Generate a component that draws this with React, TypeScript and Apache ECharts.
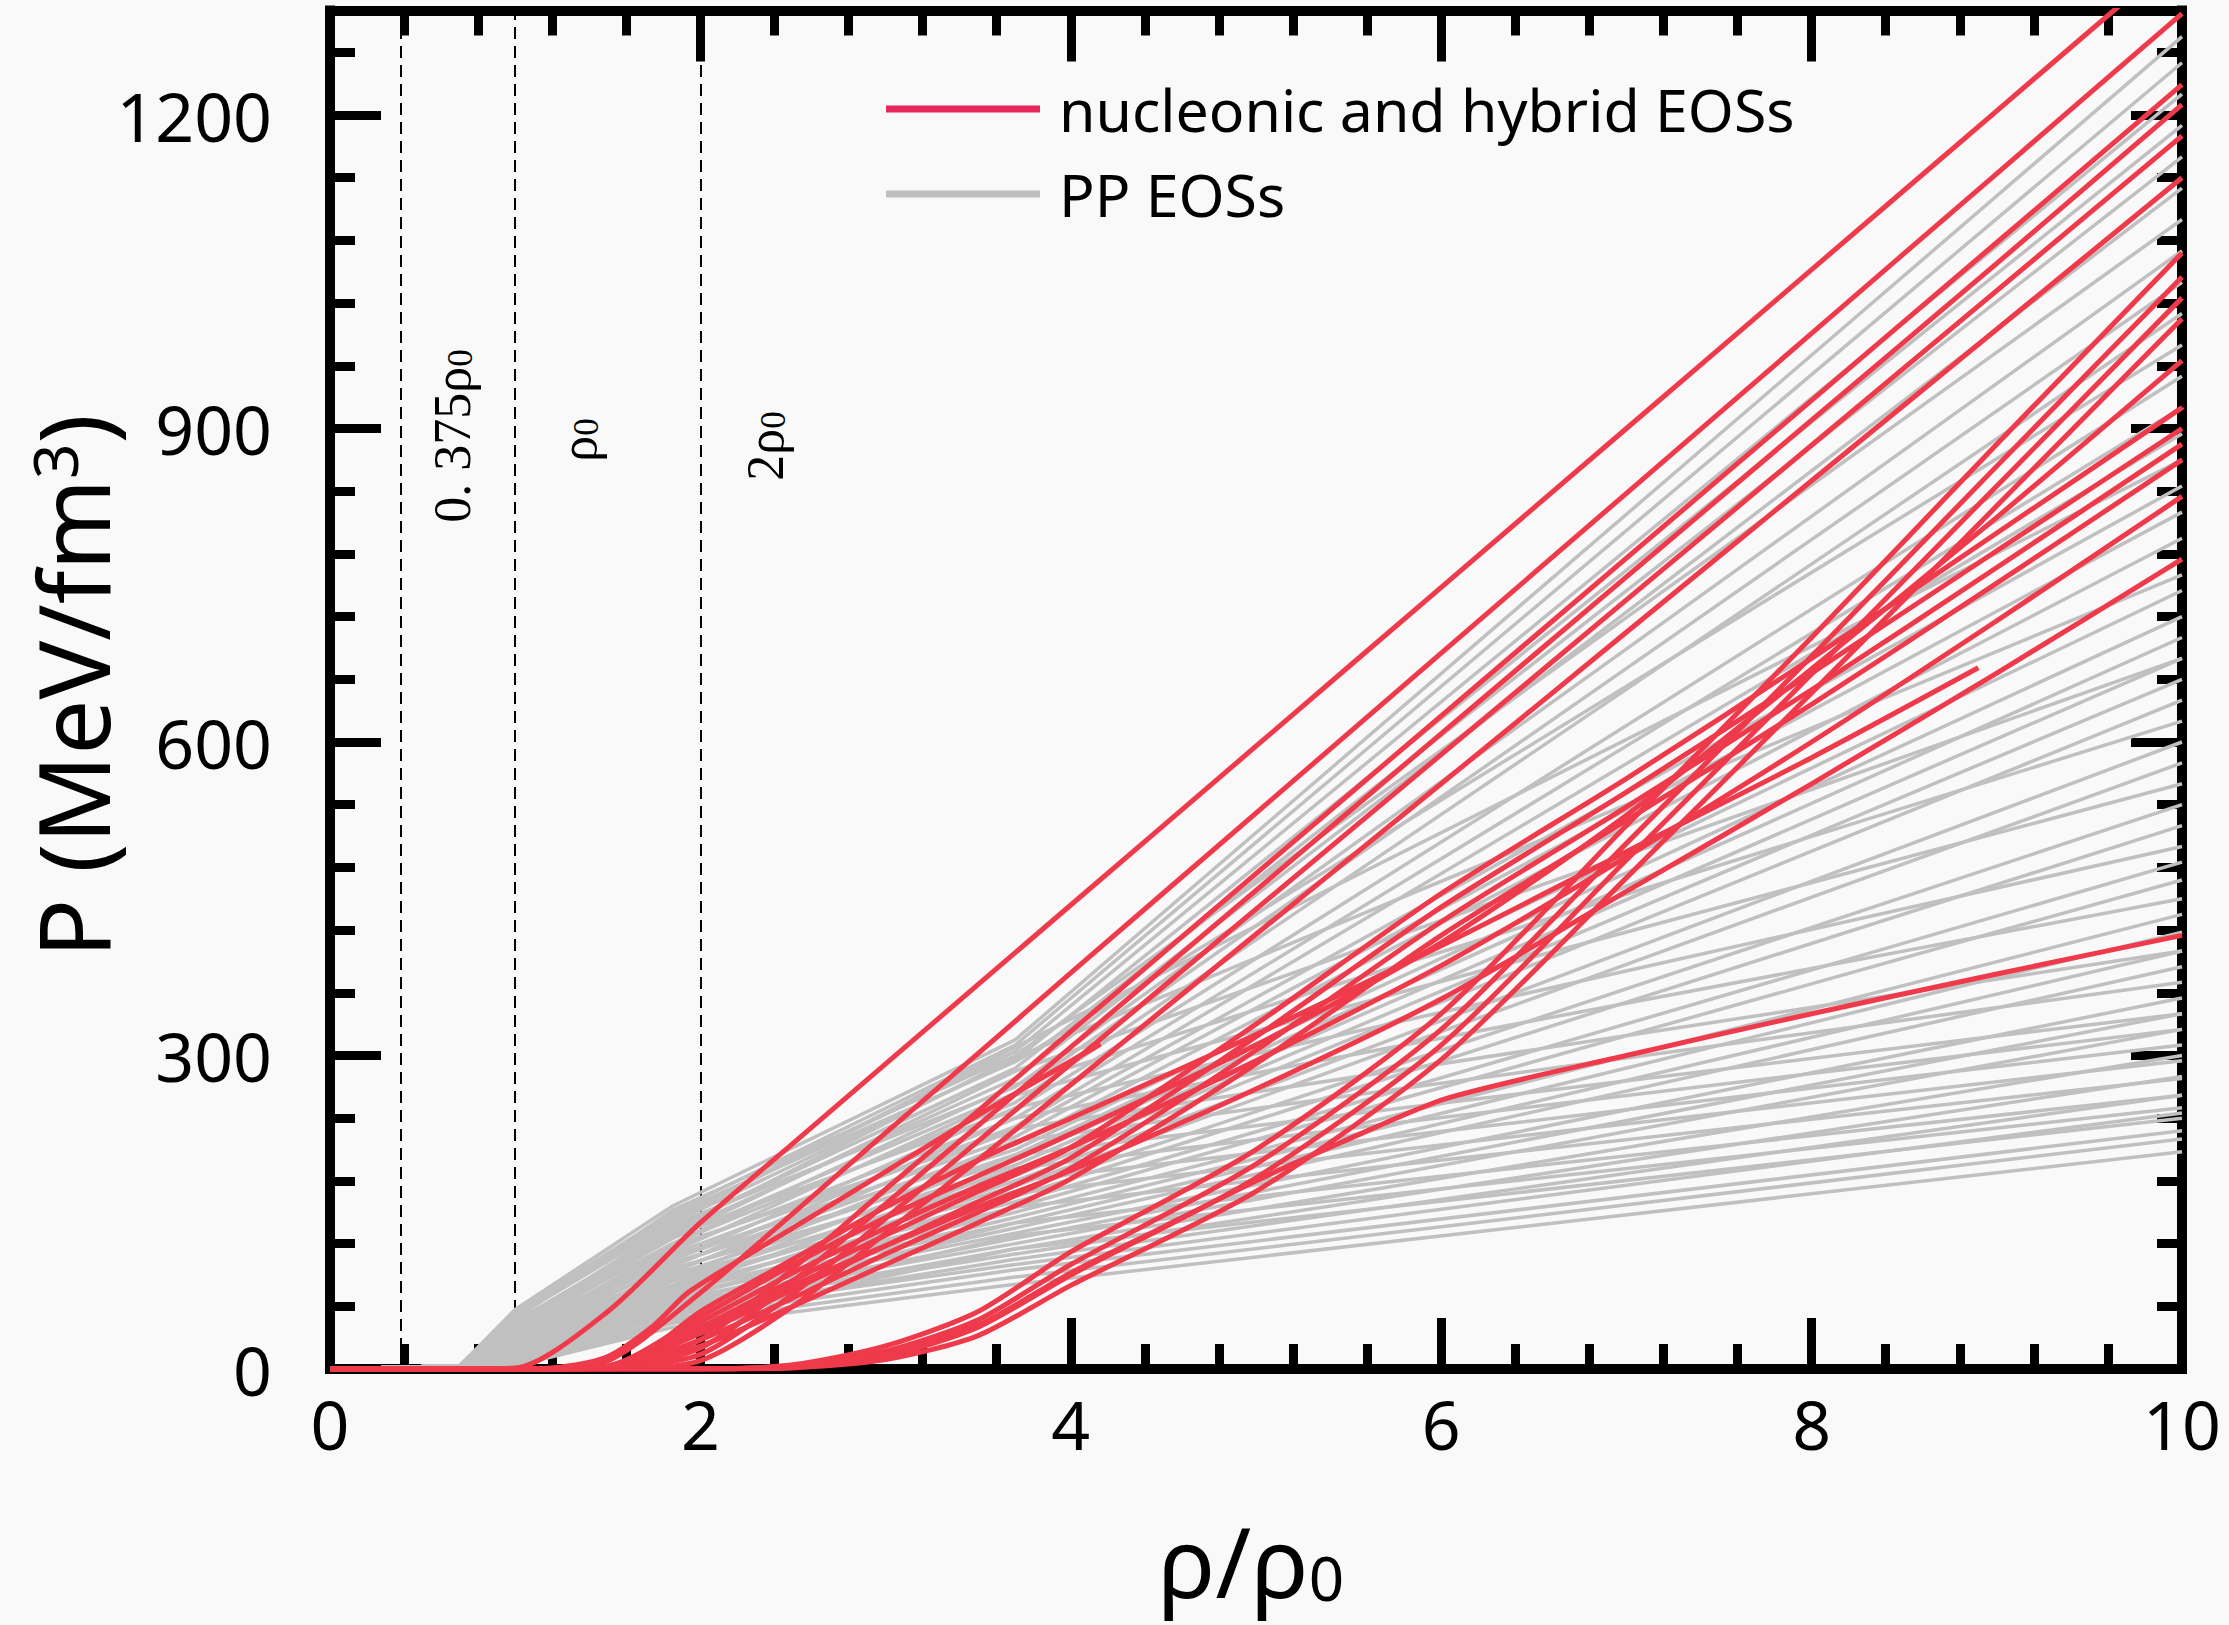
import React, { useEffect, useRef } from "react";
import * as echarts from "echarts";

// ---------- data ----------
const X_MIN = 0;
const X_MAX = 10;
const Y_MIN = 0;
const Y_MAX = 1300;
const MARK_X = [0.375, 1, 2];

// red curves sampled at these densities (rho/rho0)
const RED_X = [0, 0.5, 1, 1.5, 2, 2.5, 3, 3.5, 4, 5, 6, 7, 8, 9, 10];

// stiffest, almost straight red EOSs
const RED_TOP = [
  [0, 0, 1, 55, 140, 216, 292, 368, 444, 596, 748, 900, 1052, 1204, 1356],
  [0, 0, 0, 8, 73, 149, 226, 302, 379, 532, 685, 838, 991, 1144, 1297],
  [0, 0, 0, 2, 28, 96, 172, 247, 323, 474, 625, 776, 927, 1078, 1229],
  [0, 0, 0, 1, 20, 84, 158, 233, 308, 458, 608, 758, 908, 1058, 1210],
  [0, 0, 0, 1, 14, 72, 144, 218, 292, 440, 588, 736, 884, 1032, 1180],
  [0, 0, 0, 0, 8, 60, 130, 200, 272, 416, 560, 705, 850, 995, 1140],
];

// moderately stiff bundle
const RED_A = [
  [0, 0, 0, 3, 40, 85, 128, 170, 212, 330, 455, 565, 680, 800, 920],
  [0, 0, 0, 2, 34, 76, 118, 160, 202, 318, 442, 552, 666, 783, 900],
  [0, 0, 0, 1, 28, 68, 110, 150, 192, 305, 428, 538, 650, 767, 885],
  [0, 0, 0, 1, 22, 60, 100, 140, 182, 292, 415, 525, 636, 752, 870],
];

// soft at low density, stiff at high density
const RED_B = [
  [0, 0, 0, 0, 0, 4, 22, 55, 112, 210, 340, 520, 700, 885, 1068],
  [0, 0, 0, 0, 0, 3, 17, 47, 100, 196, 325, 503, 682, 864, 1045],
  [0, 0, 0, 0, 0, 2, 12, 40, 90, 183, 310, 487, 665, 845, 1025],
  [0, 0, 0, 0, 0, 1, 9, 32, 80, 170, 296, 470, 647, 826, 1005],
];

const RED_C = [
  [0, 0, 0, 3, 50, 100, 145, 185, 225, 310, 408, 530, 670, 815, 965],
  [0, 0, 0, 2, 45, 92, 135, 175, 212, 295, 386, 490, 600, 716, 835],
  [0, 0, 0, 1, 38, 80, 118, 155, 190, 268, 354, 457, 560, 666, 775],
];

// curves with their own sampling
const RED_SHORT_X = [0, 1, 1.25, 1.5, 1.75, 1.94, 2.5, 2.91, 3.5, 4.16];
const RED_SHORT_P = [0, 0, 2, 12, 42, 74, 135, 179, 243, 311];
const RED_END89_X = [0, 1, 1.5, 1.75, 2, 2.5, 3, 3.5, 4, 5, 6, 7, 8, 8.9];
const RED_END89_P = [0, 0, 2, 22, 55, 105, 155, 200, 240, 320, 405, 495, 585, 671];
const RED_KINK_X = [0, 1, 2, 2.5, 3, 3.5, 4, 4.5, 5, 5.5, 6.03, 7, 8, 9, 10];
const RED_KINK_P = [0, 0, 0, 3, 15, 42, 92, 136, 180, 220, 259, 300, 340, 378, 415];

// piecewise-polytrope knots and pressures
const GRAY_X = [0, 0.7, 1.0, 1.85, 3.7, 10];
const GRAY_P = [
  [0, 3, 57, 156, 315, 1275],
  [0, 3, 55, 150, 310, 1250],
  [0, 3, 52, 145, 304, 1220],
  [0, 3, 50, 140, 296, 1190],
  [0, 3, 48, 152, 300, 1100],
  [0, 3, 45, 135, 288, 1160],
  [0, 3, 53, 148, 294, 980],
  [0, 3, 44, 130, 278, 1130],
  [0, 3, 42, 138, 270, 1070],
  [0, 3, 40, 125, 264, 1040],
  [0, 3, 50, 142, 308, 870],
  [0, 3, 38, 120, 255, 1010],
  [0, 3, 36, 128, 248, 950],
  [0, 3, 35, 115, 240, 920],
  [0, 3, 46, 132, 298, 760],
  [0, 3, 33, 110, 232, 895],
  [0, 3, 31, 118, 228, 845],
  [0, 3, 30, 105, 222, 820],
  [0, 3, 43, 126, 285, 680],
  [0, 3, 28, 100, 215, 795],
  [0, 3, 27, 108, 210, 745],
  [0, 3, 40, 120, 272, 620],
  [0, 3, 25, 95, 205, 720],
  [0, 3, 24, 102, 200, 700],
  [0, 3, 37, 112, 262, 560],
  [0, 3, 22, 90, 195, 680],
  [0, 3, 21, 96, 190, 660],
  [0, 3, 34, 104, 250, 500],
  [0, 3, 20, 85, 185, 640],
  [0, 3, 18, 88, 180, 600],
  [0, 3, 32, 98, 240, 450],
  [0, 3, 17, 80, 175, 580],
  [0, 3, 16, 84, 170, 540],
  [0, 3, 30, 92, 230, 400],
  [0, 3, 15, 76, 165, 520],
  [0, 3, 14, 78, 160, 485],
  [0, 3, 28, 86, 218, 370],
  [0, 3, 13, 72, 155, 468],
  [0, 3, 12, 74, 150, 435],
  [0, 3, 26, 80, 205, 340],
  [0, 3, 11, 68, 145, 418],
  [0, 3, 10, 70, 140, 400],
  [0, 3, 24, 75, 192, 325],
  [0, 3, 9, 64, 135, 385],
  [0, 3, 8, 66, 130, 355],
  [0, 3, 22, 70, 180, 310],
  [0, 3, 8, 60, 125, 340],
  [0, 3, 7, 62, 120, 325],
  [0, 3, 20, 65, 168, 295],
  [0, 3, 6, 56, 115, 300],
  [0, 3, 6, 58, 110, 280],
  [0, 3, 18, 60, 155, 278],
  [0, 3, 5, 52, 105, 262],
  [0, 3, 5, 54, 100, 245],
  [0, 3, 16, 55, 140, 262],
  [0, 3, 4, 48, 95, 228],
  [0, 3, 14, 50, 128, 250],
  [0, 3, 4, 44, 88, 220],
  [0, 3, 3, 40, 81, 208],
  [0, 3, 12, 45, 115, 240],
];

const RED_NAME = "nucleonic and hybrid EOSs";
const GRAY_NAME = "PP EOSs";

// ---------- styling / layout ----------
const W = 2229;
const H = 1625;
const GRID = { left: 330, right: 47, top: 10.5, bottom: 256 };
const RED = "#ef3a4b";
const RED_LEGEND = "#e5275a";
const GRAY = "#c0c0c0";
const BG = "#f9f9f9";
const SANS = "'Noto Sans', 'Open Sans', sans-serif";
const SERIF = "'Liberation Serif', 'DejaVu Serif', serif";

const plotW = W - GRID.left - GRID.right;
const xPix = (v: number) => GRID.left + ((v - X_MIN) / (X_MAX - X_MIN)) * plotW;

function zip(xs: number[], ps: number[]) {
  return xs.map((x, i) => [x, ps[i]]);
}

function markLabel(text: string, x: number, y: number) {
  return {
    type: "text",
    x,
    y,
    rotation: Math.PI / 2,
    style: {
      text,
      fontSize: 52,
      fontFamily: SERIF,
      fill: "#000",
      align: "center",
      verticalAlign: "middle",
      rich: {
        s: { fontSize: 35, fontFamily: SERIF, fill: "#000", verticalAlign: "bottom" },
      },
    },
  };
}

function buildOption() {
  const series: any[] = [];

  GRAY_P.forEach((row, i) => {
    const s: any = {
      type: "line",
      name: GRAY_NAME,
      data: zip(GRAY_X, row),
      showSymbol: false,
      symbol: "none",
      silent: true,
      z: 2,
      lineStyle: { color: GRAY, width: 3.5 },
      itemStyle: { color: GRAY },
      emphasis: { disabled: true },
    };
    if (i === 0) {
      s.markLine = {
        silent: true,
        symbol: ["none", "none"],
        label: { show: false },
        lineStyle: { color: "#000", width: 2, type: [12, 7] },
        data: MARK_X.map((v) => ({ xAxis: v })),
        z: 1,
      };
    }
    series.push(s);
  });

  const redSeries = (data: number[][]) => ({
    type: "line",
    name: RED_NAME,
    data,
    showSymbol: false,
    symbol: "none",
    silent: true,
    smooth: 0.25,
    z: 3,
    lineStyle: { color: RED, width: 5, join: "round" },
    itemStyle: { color: RED },
    emphasis: { disabled: true },
  });

  [...RED_B, ...RED_A, ...RED_C, ...RED_TOP].forEach((p) =>
    series.push(redSeries(zip(RED_X, p)))
  );
  series.push(redSeries(zip(RED_SHORT_X, RED_SHORT_P)));
  series.push(redSeries(zip(RED_END89_X, RED_END89_P)));
  series.push(redSeries(zip(RED_KINK_X, RED_KINK_P)));

  const axisLine = {
    show: true,
    onZero: false,
    lineStyle: { color: "#000", width: 10, cap: "square" },
  };
  const majorTick = {
    show: true,
    inside: true,
    length: 51,
    lineStyle: { color: "#000", width: 9 },
  };
  const minorTickX = {
    show: true,
    splitNumber: 5,
    length: 25,
    lineStyle: { color: "#000", width: 9 },
  };
  const label = {
    fontSize: 68,
    fontFamily: SANS,
    color: "#000",
    formatter: (v: number) => String(v),
  };

  const xBase = {
    type: "value",
    min: X_MIN,
    max: X_MAX,
    interval: 2,
    axisLine,
    axisTick: majorTick,
    minorTick: minorTickX,
    splitLine: { show: false },
    minorSplitLine: { show: false },
  };

  const yBase = {
    type: "value",
    min: Y_MIN,
    max: Y_MAX,
    splitLine: { show: false },
  };
  const minorY = {
    ...yBase,
    interval: 60,
    axisLine: { show: false, onZero: false },
    axisTick: { show: true, inside: true, length: 25, lineStyle: { color: "#000", width: 9 } },
    axisLabel: { show: false },
  };

  return {
    animation: false,
    backgroundColor: BG,
    grid: { ...GRID, containLabel: false },
    legend: {
      orient: "vertical",
      left: 881,
      top: 73,
      itemWidth: 154,
      itemHeight: 7,
      itemGap: 23,
      selectedMode: false,
      textStyle: {
        fontSize: 59,
        fontFamily: SANS,
        color: "#000",
        lineHeight: 62,
        padding: [0, 0, 0, 14],
      },
      data: [
        { name: RED_NAME, icon: "rect", itemStyle: { color: RED_LEGEND } },
        { name: GRAY_NAME, icon: "rect", itemStyle: { color: GRAY } },
      ],
    },
    xAxis: [
      {
        ...xBase,
        position: "bottom",
        axisLabel: { ...label, margin: 20 },
      },
      {
        ...xBase,
        position: "top",
        axisLabel: { show: false },
      },
    ],
    yAxis: [
      {
        ...yBase,
        position: "left",
        interval: 300,
        axisLine,
        axisTick: majorTick,
        axisLabel: { ...label, margin: 58, showMaxLabel: false },
      },
      {
        ...yBase,
        position: "right",
        interval: 300,
        axisLine,
        axisTick: majorTick,
        axisLabel: { show: false },
      },
      { ...minorY, position: "left" },
      { ...minorY, position: "right" },
    ],
    graphic: [
      {
        type: "text",
        x: 72,
        y: 686,
        rotation: Math.PI / 2,
        style: {
          text: "P (MeV/fm{sup|3})",
          fontSize: 98,
          fontFamily: SANS,
          fill: "#000",
          align: "center",
          verticalAlign: "middle",
          rich: {
            sup: { fontSize: 62, fontFamily: SANS, fill: "#000", verticalAlign: "top" },
          },
        },
      },
      {
        type: "text",
        x: 1251,
        y: 1560,
        style: {
          text: "ρ/ρ{sub|0}",
          fontSize: 96,
          fontFamily: SANS,
          fill: "#000",
          align: "center",
          verticalAlign: "middle",
          rich: {
            sub: { fontSize: 62, fontFamily: SANS, fill: "#000", verticalAlign: "bottom" },
          },
        },
      },
      markLabel("0. 375ρ{s|0}", xPix(MARK_X[0]) + 53, 436),
      markLabel("ρ{s|0}", xPix(MARK_X[1]) + 63, 440),
      markLabel("2ρ{s|0}", xPix(MARK_X[2]) + 65, 446),
    ],
    series,
  };
}

export default function App() {
  const ref = useRef<HTMLDivElement>(null);
  useEffect(() => {
    if (!ref.current) return;
    const chart = echarts.init(ref.current, null, { renderer: "svg" });
    chart.setOption(buildOption() as any);
    return () => {
      chart.dispose();
    };
  }, []);
  return (
    <div
      ref={ref}
      style={{
        position: "fixed",
        left: 0,
        top: 0,
        width: W,
        height: H,
        background: BG,
      }}
    />
  );
}
